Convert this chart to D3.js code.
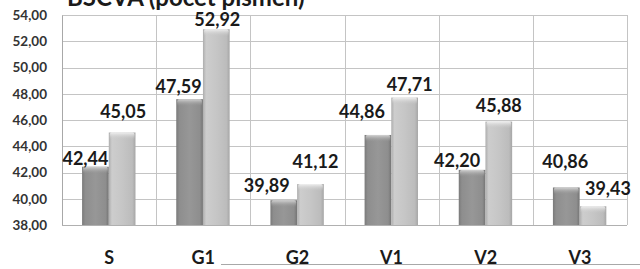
<!DOCTYPE html>
<html>
<head>
<meta charset="utf-8">
<script src="https://cdn.jsdelivr.net/npm/d3@7"></script>
<style>
  html, body { margin: 0; padding: 0; background: #fff; }
  svg { display: block; font-family: Lato, "Open Sans", sans-serif; }
</style>
</head>
<body>
<svg id="chart" width="640" height="269"></svg>
<script>
// ---- data ----
const title = "BSCVA (počet písmen)";
const categories = ["S", "G1", "G2", "V1", "V2", "V3"];
const seriesA = [42.44, 47.59, 39.89, 44.86, 42.20, 40.86];
const seriesB = [45.05, 52.92, 41.12, 47.71, 45.88, 39.43];
const yTicks = [38, 40, 42, 44, 46, 48, 50, 52, 54];
// label nudges (pixels) copied from the manually placed labels
const labelDxA = [-10, -11, -17, -16, -15, -1];
const labelGapA = [2, 6, 8, 17, 3, 19];
const labelDxB = [1, 1, 5, 5, 0, 15];
const labelGapB = [14, 3, 16, 7, 10, 11];

const svg = d3.select("#chart");
const L = 62, R = 627, T = 15, B = 225;

const locale = d3.formatLocale({decimal: ",", thousands: " ", grouping: [3], currency: ["", ""]});
const fmt = locale.format(".2f");

const x = d3.scaleBand().domain(categories).range([L, R]).paddingInner(0).paddingOuter(0);
const bw = x.bandwidth();
const barW = bw * 0.2835;
const gapL = (bw - 2 * barW) / 2 - 0.3;
const xs = d3.scaleBand().domain([0, 1]).range([gapL, gapL + 2 * barW]);
const y = d3.scaleLinear().domain([38, 54]).range([B, T]);

// gradients
const defs = svg.append("defs");
function hGrad(id, stops) {
  const g = defs.append("linearGradient").attr("id", id).attr("x1", 0).attr("x2", 1).attr("y1", 0).attr("y2", 0);
  stops.forEach(s => g.append("stop").attr("offset", s[0]).attr("stop-color", s[1]));
}
function vGrad(id, stops) {
  const g = defs.append("linearGradient").attr("id", id).attr("x1", 0).attr("x2", 0).attr("y1", 0).attr("y2", 1);
  stops.forEach(s => g.append("stop").attr("offset", s[0]).attr("stop-color", s[1]).attr("stop-opacity", s[2] ?? 1));
}
hGrad("gA", [[0, "#7a7a7a"], [0.12, "#8e8e8e"], [0.5, "#979797"], [0.88, "#8e8e8e"], [1, "#747474"]]);
hGrad("gB", [[0, "#adadad"], [0.12, "#cdcdcd"], [0.5, "#c6c6c6"], [0.88, "#bcbcbc"], [1, "#a6a6a6"]]);
vGrad("tA", [[0, "#d4d4d4", 1], [1, "#979797", 0]]);
vGrad("tB", [[0, "#f0f0f0", 1], [1, "#c8c8c8", 0]]);

// gridlines
svg.append("g").selectAll("line").data(yTicks).join("line")
  .attr("x1", L).attr("x2", R)
  .attr("y1", d => Math.round(y(d)) + 0.5).attr("y2", d => Math.round(y(d)) + 0.5)
  .attr("stroke", "#c4c4c4").attr("stroke-width", 1);
const bounds = categories.map(c => x(c)).concat([R]);
svg.append("g").selectAll("line").data(bounds).join("line")
  .attr("x1", d => Math.round(d) + 0.5).attr("x2", d => Math.round(d) + 0.5)
  .attr("y1", T).attr("y2", B)
  .attr("stroke", "#c4c4c4").attr("stroke-width", 1);

// y axis labels
const yAxis = d3.axisLeft(y).tickValues(yTicks).tickFormat(fmt).tickSize(0).tickPadding(15);
const gy = svg.append("g").attr("transform", `translate(${L},0)`).call(yAxis);
gy.select(".domain").attr("stroke", "#a8a8a8");
gy.selectAll("text").attr("font-family", "Lato, sans-serif").attr("font-size", 13.5)
  .attr("font-weight", "bold").attr("fill", "#333333");

// bottom axis line
svg.append("line").attr("x1", L).attr("x2", R).attr("y1", B + 0.5).attr("y2", B + 0.5)
  .attr("stroke", "#b0b0b0");

// category labels
const xAxis = d3.axisBottom(x).tickSize(0).tickPadding(26);
const gx = svg.append("g").attr("transform", `translate(0,${B})`).call(xAxis);
gx.select(".domain").remove();
gx.selectAll("text").attr("font-family", "Lato, sans-serif").attr("font-size", 18)
  .attr("font-weight", "bold").attr("fill", "#1a1a1a");

// stray line under the labels
svg.append("line").attr("x1", 221).attr("x2", 640).attr("y1", 264.5).attr("y2", 264.5)
  .attr("stroke", "#a8a8a8");

// bars
const series = [
  {vals: seriesA, fill: "url(#gA)", top: "url(#tA)", dx: labelDxA, gap: labelGapA, k: 0},
  {vals: seriesB, fill: "url(#gB)", top: "url(#tB)", dx: labelDxB, gap: labelGapB, k: 1}
];
series.forEach(s => {
  const g = svg.append("g");
  g.selectAll("rect.bar").data(categories).join("rect").attr("class", "bar")
    .attr("x", (c) => x(c) + xs(s.k))
    .attr("width", xs.bandwidth())
    .attr("y", (c, i) => y(s.vals[i]))
    .attr("height", (c, i) => B - y(s.vals[i]))
    .attr("fill", s.fill);
  g.selectAll("rect.top").data(categories).join("rect").attr("class", "top")
    .attr("x", (c) => x(c) + xs(s.k) + 1)
    .attr("width", xs.bandwidth() - 2)
    .attr("y", (c, i) => y(s.vals[i]))
    .attr("height", 7).attr("rx", 2)
    .attr("fill", s.top);
  g.selectAll("text").data(categories).join("text")
    .attr("x", (c, i) => x(c) + xs(s.k) + xs.bandwidth() / 2 + s.dx[i])
    .attr("y", (c, i) => y(s.vals[i]) - s.gap[i])
    .attr("text-anchor", "middle")
    .attr("font-size", 18).attr("font-weight", "bold").attr("fill", "#1a1a1a")
    .text((c, i) => fmt(s.vals[i]));
});

// title
svg.append("text").attr("x", 67).attr("y", 6)
  .attr("font-size", 24).attr("font-weight", "bold").attr("fill", "#1a1a1a")
  .text(title);
</script>
</body>
</html>
